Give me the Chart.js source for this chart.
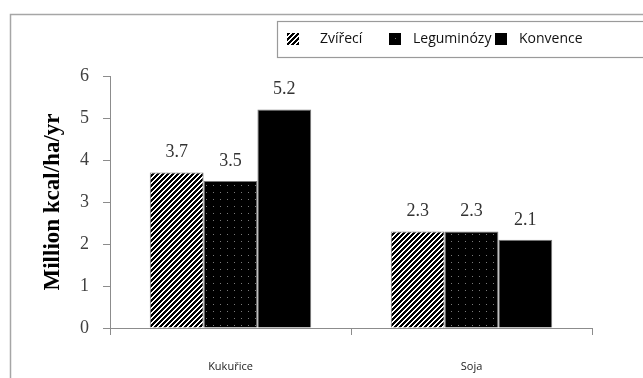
<!DOCTYPE html>
<html>
<head>
<meta charset="utf-8">
<script src="https://cdn.jsdelivr.net/npm/chart.js@4.4.1/dist/chart.umd.min.js"></script>
<style>
  html, body { margin: 0; padding: 0; background: #fff; }
  canvas { display: block; }
</style>
</head>
<body>
<canvas id="chart" width="643" height="378"></canvas>
<script>
// Energy yield per crop and farming system, million kcal/ha/yr
const crops = ["Kukuřice", "Soja"];
const systems = ["Zvířecí", "Leguminózy", "Konvence"];
const animalVals = [3.7, 2.3];
const legumeVals = [3.5, 2.3];
const conventionalVals = [5.2, 2.1];
const yMin = 0, yMax = 6, yStep = 1;
const yTitle = "Million kcal/ha/yr";

const SERIF = "'Liberation Serif', 'Times New Roman', serif";
const SANS = "'Open Sans', 'Liberation Sans', sans-serif";
const AXIS_GREY = "#8c8c8c";

const canvas = document.getElementById("chart");
const ctx = canvas.getContext("2d");

// black/white "/" stripes
function hatchPattern() {
  const n = 5;
  const c = document.createElement("canvas");
  c.width = c.height = n;
  const g = c.getContext("2d");
  const img = g.createImageData(n, n);
  for (let j = 0; j < n; j++) {
    for (let i = 0; i < n; i++) {
      const v = (i + j) % n < 3 ? 0 : 255;
      const k = (j * n + i) * 4;
      img.data[k] = img.data[k + 1] = img.data[k + 2] = v;
      img.data[k + 3] = 255;
    }
  }
  g.putImageData(img, 0, 0);
  return ctx.createPattern(c, "repeat");
}

// black fill with a sparse grid of grey dots
function dotPattern() {
  const c = document.createElement("canvas");
  c.width = c.height = 7;
  const g = c.getContext("2d");
  g.fillStyle = "#000";
  g.fillRect(0, 0, 7, 7);
  g.fillStyle = "#7a7a7a";
  g.fillRect(3, 3, 1, 1);
  return ctx.createPattern(c, "repeat");
}

const fills = [hatchPattern(), dotPattern(), "#000"];
const series = [animalVals, legumeVals, conventionalVals];

// outer frame + legend box
const framePlugin = {
  id: "frame",
  beforeDraw(chart) {
    const c = chart.ctx;
    c.save();
    c.fillStyle = "#fff";
    c.fillRect(0, 0, chart.width, chart.height);
    c.strokeStyle = "#a6a6a6";
    c.lineWidth = 1.5;
    c.beginPath();
    c.moveTo(10.5, chart.height);
    c.lineTo(10.5, 14.5);
    c.lineTo(chart.width, 14.5);
    c.stroke();

    c.lineWidth = 1.2;
    c.strokeStyle = "#9a9a9a";
    c.strokeRect(277.5, 21.5, chart.width, 36);

    c.font = "14px " + SANS;
    c.textBaseline = "middle";
    let x = 287;
    systems.forEach((name, i) => {
      c.fillStyle = fills[i];
      c.fillRect(x, 33, 12, 12);
      c.fillStyle = "#111";
      c.fillText(name, x + (i === 0 ? 33 : 24), 39);
      x += i === 0 ? 102 : 106;
    });
    c.restore();
  }
};

// value labels above each bar
const valuePlugin = {
  id: "values",
  afterDatasetsDraw(chart) {
    const c = chart.ctx;
    c.save();
    c.font = "18px " + SERIF;
    c.fillStyle = "#333";
    c.textAlign = "center";
    c.textBaseline = "middle";
    chart.data.datasets.forEach((ds, di) => {
      chart.getDatasetMeta(di).data.forEach((bar, i) => {
        c.fillText(ds.data[i].toFixed(1), bar.x, bar.y - 20);
      });
    });
    c.restore();
  }
};

new Chart(ctx, {
  type: "bar",
  data: {
    labels: crops,
    datasets: systems.map((name, i) => ({
      label: name,
      data: series[i],
      backgroundColor: fills[i],
      borderColor: "#7a7a7a",
      borderWidth: 1,
      barPercentage: 1,
      categoryPercentage: 0.67,
    })),
  },
  options: {
    responsive: false,
    animation: false,
    events: [],
    layout: { padding: { top: 76, right: 51, left: 0, bottom: 0 } },
    plugins: {
      legend: { display: false },
      tooltip: { enabled: false },
    },
    scales: {
      x: {
        afterFit: (s) => { s.height = 50; },
        grid: { drawOnChartArea: false, drawTicks: true, tickLength: 7, color: AXIS_GREY, offset: true },
        border: { color: AXIS_GREY, width: 1 },
        ticks: { color: "#222", font: { family: SANS, size: 11 }, padding: 25 },
      },
      y: {
        min: yMin,
        max: yMax,
        afterFit: (s) => { s.width = 110; },
        grid: { drawOnChartArea: false, drawTicks: true, tickLength: 7, color: AXIS_GREY },
        border: { color: AXIS_GREY, width: 1 },
        ticks: { stepSize: yStep, color: "#404040", font: { family: SERIF, size: 18 }, padding: 14 },
        title: {
          display: true,
          text: yTitle,
          color: "#000",
          font: { family: SERIF, size: 23, weight: "bold" },
          padding: { top: 39, bottom: 0 },
        },
      },
    },
  },
  plugins: [framePlugin, valuePlugin],
});
</script>
</body>
</html>
